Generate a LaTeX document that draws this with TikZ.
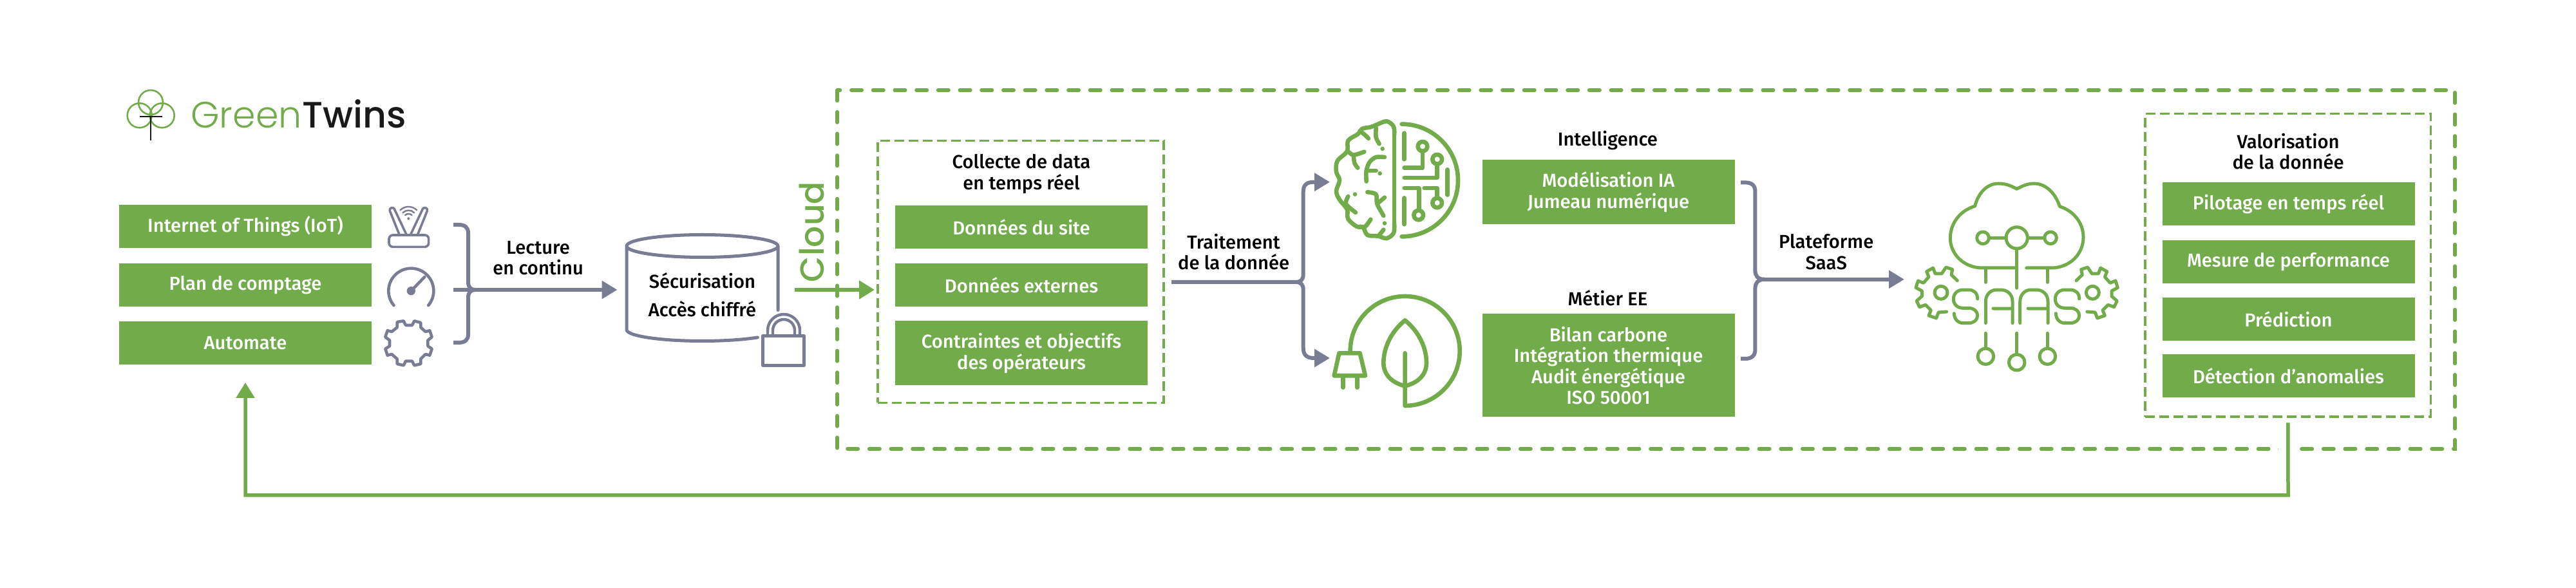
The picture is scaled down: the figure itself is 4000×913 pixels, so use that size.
\documentclass[tikz,border=0pt]{standalone}
\usepackage{fontspec}
\usepackage{tikz}
\usetikzlibrary{positioning, calc, arrows.meta}
\setmainfont{Fira Sans Medium}
\newfontfamily\logolight{Poppins Light}
\newfontfamily\logomed{Poppins Medium}
\definecolor{gtgreen}{HTML}{72AC4A}
\definecolor{gtgrey}{HTML}{797C95}
\tikzset{gbox/.style={fill=gtgreen, text=white, inner sep=0pt, outer sep=0pt, align=center,
    minimum width=196pt, minimum height=33.5pt, font=\fontsize{14.6}{16.25}\selectfont}}
\tikzset{lbl/.style={text=black, inner sep=0pt, align=center, font=\fontsize{14.6}{16.25}\selectfont}}
\tikzset{frame/.style={draw=gtgreen, line width=1.75pt, dash pattern=on 7.5pt off 3.5pt, inner sep=0pt, outer sep=0pt}}
\tikzset{bus/.style={draw=gtgrey, line width=3pt}}
\tikzset{busarrow/.style={bus, -{Triangle[length=12pt, width=13.5pt]}}}
\tikzset{greenarrow/.style={draw=gtgreen, line width=2.75pt, -{Triangle[length=12pt, width=14pt]}}}
\tikzset{icon/.style={draw=gtgreen, line width=3.3pt, line cap=round, line join=round}}
\tikzset{greyicon/.style={draw=gtgrey, line width=2.3pt, line cap=round, line join=round}}
\tikzset{anchorbox/.style={inner sep=0pt, outer sep=0pt}}
\newcommand{\saasgear}{
  \draw[icon, line width=2.5pt] plot coordinates {(268,497) (240,470) (245,445) (215,435) (195,465) (165,465) (155,438) (125,455) (135,480) (110,508) (85,498) (75,530) (103,545) (103,570) (78,592) (92,620) (120,610) (145,635) (135,660) (170,672) (180,645) (218,642)};
  \draw[icon, line width=2.5pt] (192,553) circle[radius=30];
}
\begin{document}
\begin{tikzpicture}[x=.5pt, y=-.5pt]
  \useasboundingbox (0,0) rectangle (4000,913);

  % logo
  \draw[gtgreen, line width=1.3pt] (234,159) circle[radius=19] (216.7,179.3) circle[radius=19] (251.7,179.3) circle[radius=19];
  \draw[black!90, line width=1.4pt] (216.7,181) -- (252.3,181) (234,181) -- (234,218);
  \node[anchor=base west, inner sep=0pt, text=gtgreen, font=\fontsize{28.5}{30}\logolight] (logoa) at (296,199) {Green};
  \node[anchor=base west, inner sep=0pt, text=black!90, font=\fontsize{28.5}{30}\logomed] (logob) at (logoa.base east) {Twins};

  % left column
  \node[gbox] (iot) at (381,351.5) {Internet of Things (IoT)};
  \node[gbox, below=12.25pt of iot] (plan) {Plan de comptage};
  \node[gbox, below=11.25pt of plan] (auto) {Automate};

  % router
  \begin{scope}[shift={(570,300)}, x=.16667pt, y=-.16667pt]
    \draw[greyicon, line width=1.8pt, rounded corners=3pt] (102,195) rectangle (287,250);
    \draw[greyicon, line width=1.8pt] (150,192) -- (107,85) .. controls (100,65) and (125,60) .. (130,80) -- (183,192);
    \draw[greyicon, line width=1.8pt] (236,192) -- (279,85) .. controls (286,65) and (261,60) .. (256,80) -- (203,192);
    \fill[gtgrey] (193,118) circle[radius=6];
    \draw[greyicon, line width=1.2pt] (193,118) ++(-135:22) arc[start angle=-135, end angle=-45, radius=22];
    \draw[greyicon, line width=1.2pt] (193,118) ++(-135:38) arc[start angle=-135, end angle=-45, radius=38];
    \draw[greyicon, line width=1.2pt] (193,118) ++(-135:55) arc[start angle=-135, end angle=-45, radius=55];
    % gauge
    \draw[greyicon] (205,455) ++(140:105) arc[start angle=140, end angle=400, radius=105];
    \fill[gtgrey] (205,455) circle[radius=20];
    \draw[greyicon] (205,455) -- (268,390);
    % gear
    \draw[greyicon] plot coordinates {(140,600) (170,595) (180,615) (210,615) (220,595) (250,603) (250,625) (272,645) (292,640) (302,670) (283,685) (283,712) (302,725) (292,755) (272,750) (250,772) (250,795) (220,802) (210,782) (180,782) (170,802) (140,795) (140,772) (115,750) (95,755) (85,725) (105,712) (105,685) (85,670) (95,640) (115,645) (140,625)} -- cycle;
  \end{scope}

  % first collector
  \coordinate (lecta) at (704,349);
  \coordinate (lectb) at (704,450);
  \coordinate (lectc) at (704,532);
  \draw[bus] (lecta) -- (712,349) .. controls (722,349) and (727,353) .. (727,362) -- (727,438) .. controls (727,446) and (731,450) .. (738,450);
  \draw[bus] (lectc) -- (712,532) .. controls (722,532) and (727,528) .. (727,519) -- (727,462) .. controls (727,454) and (731,450) .. (738,450);
  \node[lbl] (lecture) at (835.6,400.5) {Lecture\\en continu};

  % database
  \node[lbl, font=\fontsize{14.6}{22}\selectfont, minimum width=117.5pt] (secure) at (1090.5,458) {Sécurisation\\Accès chiffré};
  \draw[busarrow, shorten >=7pt] (lectb) -- (lectb -| secure.west);
  \draw[greyicon, line width=2.5pt] (1208,481.5) -- (1208,382) arc[start angle=0, end angle=360, x radius=117.5, y radius=17.5] (973,382) -- (973,512) arc[start angle=180, end angle=43, x radius=117.5, y radius=17.5];
  \draw[greyicon, line width=2.4pt, line join=round] (1184.5,521.5) rectangle (1248.5,567.5);
  \draw[greyicon, line width=2.2pt] (1192,519) -- (1192,513) arc[start angle=180, end angle=360, radius=25] -- (1242,519);
  \draw[greyicon, line width=2.2pt] (1200,519) -- (1200,513) arc[start angle=180, end angle=360, radius=17] -- (1234,519);

  % cloud frame
  \draw[gtgreen, line width=2.75pt, line cap=round, dash pattern=on 8.25pt off 8.6pt] (1300,140) rectangle (3812,697);
  \node[rotate=90, inner sep=0pt, text=gtgreen, font=\fontsize{26}{28}\logomed] (cloudlbl) at (1260,360) {Cloud};

  % collect
  \node[frame, minimum width=222pt, minimum height=203.5pt] (collecte) at (1585,422) {};
  \node[lbl] (collectet) at (1586,270) {Collecte de data\\en temps réel};
  \node[gbox] (site) at (1586,353) {Données du site};
  \node[gbox, below=11.25pt of site] (externe) {Données externes};
  \node[gbox, below=11.25pt of externe, minimum height=50pt] (contr) {Contraintes et objectifs\\des opérateurs};
  \coordinate (secin) at (secure.east |- lectb);
  \draw[greenarrow, shorten <=13pt, shorten >=2.5pt] (secin) -- (secin -| collecte.west);

  % brain
  \node[anchorbox, minimum width=97pt] (brain) at (2170,282.7) {};
  \begin{scope}[shift={(2040,170)}, x=.16667pt, y=-.16667pt]
    \draw[icon] plot[smooth, tension=.6] coordinates {(375,120) (372,80) (340,55) (295,70) (265,82) (225,90) (205,115) (160,145) (155,195) (110,240) (105,290) (120,330) (105,380) (120,420) (155,465) (160,510) (200,545) (230,550) (250,585) (300,590) (340,600) (372,575) (375,530)};
    \draw[icon] (375,120) -- (375,530);
    \draw[icon] plot[smooth] coordinates {(290,85) (290,130) (305,160)};
    \draw[icon] plot[smooth] coordinates {(215,100) (240,120) (255,135)};
    \draw[icon] plot[smooth] coordinates {(160,195) (185,212) (235,197)};
    \draw[icon] plot[smooth] coordinates {(185,212) (190,250) (205,272)};
    \draw[icon] plot[smooth] coordinates {(330,222) (290,222) (260,245) (245,285) (245,335)};
    \draw[icon] (255,285) -- (290,285);
    \draw[icon] plot[smooth] coordinates {(250,385) (290,395) (295,440) (325,495)};
    \draw[icon] (300,435) -- (330,410);
    \draw[icon] plot[smooth] coordinates {(160,405) (150,440) (195,480)};
    \draw[icon] plot[smooth] coordinates {(265,512) (240,545) (215,545)};
    \draw[icon] plot[smooth] coordinates {(325,560) (305,585)};
    \fill[gtgreen] (320,183) circle[radius=10] (308,298) circle[radius=10] (192,395) circle[radius=10] (330,530) circle[radius=10];
    % circuit half
    \draw[icon] (410,68) arc[start angle=-90, end angle=90, radius=262];
    \draw[icon] (422,110) -- (422,232) (623,280) -- (623,398) (422,412) -- (422,535);
    \draw[icon] (507,172) circle[radius=22] (575,232) circle[radius=22] (488,492) circle[radius=22] (575,435) circle[radius=22];
    \draw[icon] (507,195) -- (507,272) -- (422,272);
    \draw[icon] (575,255) -- (575,318) -- (422,318);
    \draw[icon] (422,366) -- (490,366) -- (490,470);
    \draw[icon] (515,366) -- (575,366) -- (575,412);
  \end{scope}

  % plug and leaf
  \node[anchorbox, minimum width=102pt] (leaf) at (2170,556) {};
  \begin{scope}[shift={(2040,440)}, x=.16667pt, y=-.16667pt]
    \draw[icon] (170,315) arc[start angle=180, end angle=450, radius=255] -- (425,325);
    \draw[icon] (425,172) .. controls (360,225) and (325,300) .. (325,370) .. controls (325,430) and (370,465) .. (425,478) .. controls (480,465) and (525,430) .. (525,370) .. controls (525,300) and (490,225) .. (425,172) -- cycle;
    \draw[icon] (118,325) -- (215,325) -- (240,430) -- (95,430) -- cycle;
    \draw[icon] (137,440) -- (137,485) (202,440) -- (202,485);
  \end{scope}

  % second collector
  \draw[bus, shorten <=6pt] (collecte.east |- 0,438) -- (2012,438) .. controls (2020,438) and (2023.7,434) .. (2023.7,426) -- (2023.7,298) .. controls (2023.7,288) and (2028,282.7) .. (2040,282.7);
  \draw[bus] (2012,438) .. controls (2020,438) and (2023.7,442) .. (2023.7,450) -- (2023.7,540) .. controls (2023.7,550) and (2028,556) .. (2040,556);
  \coordinate (brainin) at (2040,282.7);
  \coordinate (leafin) at (2040,556);
  \draw[busarrow, shorten >=4pt] (brainin) -- (brain.west);
  \draw[busarrow, shorten >=1.5pt] (leafin) -- (leaf.west);
  \node[lbl] (traitement) at (1915.6,391.3) {Traitement\\de la donnée};

  % model boxes
  \node[gbox, minimum height=50pt] (model) at (2497.5,298) {Modélisation IA\\Jumeau numérique};
  \node[gbox, minimum height=80pt] (metier) at (2497.5,567.4) {Bilan carbone\\Intégration thermique\\Audit énergétique\\ISO 50001};
  \node[lbl] (intel) at (2496.4,218.4) {Intelligence};
  \node[lbl] (metiert) at (2496.4,462.5) {Métier EE};

  % third collector
  \coordinate (plata) at (2703,283.4);
  \coordinate (platb) at (2740,433.8);
  \coordinate (platc) at (2703,557);
  \draw[bus] (plata) -- (2710,283.4) .. controls (2720,283.4) and (2725.4,288) .. (2725.4,297) -- (2725.4,420) .. controls (2725.4,428) and (2729,433.8) .. (platb);
  \draw[bus] (platc) -- (2710,557) .. controls (2720,557) and (2725.4,552) .. (2725.4,543) -- (2725.4,448) .. controls (2725.4,440) and (2729,433.8) .. (platb);
  \node[lbl] (plateforme) at (2835.7,391) {Plateforme\\SaaS};

  % saas icon
  \node[anchorbox, minimum width=158pt] (saas) at (3133,433.8) {};
  \draw[busarrow, shorten >=9pt] (platb) -- (saas.west);
  \begin{scope}[shift={(2950,270)}, x=.16667pt, y=-.16667pt]
    \tikzset{every path/.append style={line width=2.5pt}}
    \draw[icon, line width=2.5pt] (590,438) -- (705,438) .. controls (790,438) and (855,375) .. (855,295) .. controls (855,225) and (805,170) .. (745,152) .. controls (725,90) and (680,45) .. (625,45) .. controls (590,45) and (565,60) .. (545,70) .. controls (525,60) and (500,45) .. (460,45) .. controls (405,45) and (365,90) .. (350,150) .. controls (285,170) and (235,225) .. (235,300) .. controls (235,375) and (300,438) .. (385,438) -- (540,438);
    \draw[icon, line width=2.5pt] (545,298) circle[radius=50] (387,298) circle[radius=28] (702,298) circle[radius=28];
    \draw[icon, line width=2.5pt] (415,298) -- (495,298) (595,298) -- (675,298) (545,348) -- (545,532) (400,438) -- (400,505) (688,438) -- (688,505);
    \foreach \sx in {0,474} {
      \draw[icon, line width=2.5pt, shift={(\sx,0)}] (362,582) .. controls (362,555) and (345,540) .. (320,540) -- (295,540) .. controls (268,540) and (250,558) .. (250,583) .. controls (250,608) and (268,625) .. (295,625) -- (320,625) .. controls (345,625) and (362,640) .. (362,660) .. controls (362,680) and (345,695) .. (320,695) -- (295,695) .. controls (270,695) and (253,675) .. (253,650);
    }
    \draw[icon, line width=2.5pt] (400,695) -- (400,595) .. controls (400,560) and (425,540) .. (450,540) -- (470,540) .. controls (500,540) and (525,560) .. (525,595) -- (525,695) (435,627) -- (525,627);
    \draw[icon, line width=2.5pt] (560,695) -- (560,595) .. controls (560,560) and (585,540) .. (610,540) -- (635,540) .. controls (665,540) and (690,560) .. (690,595) -- (690,695) (597,627) -- (690,627);
    \draw[icon, line width=2.5pt] (400,742) -- (400,812) (545,742) -- (545,840) (688,742) -- (688,812);
    \draw[icon, line width=2.5pt] (400,850) circle[radius=37] (545,878) circle[radius=37] (688,850) circle[radius=37];
    \saasgear
    \begin{scope}[shift={(1090,0)}, xscale=-1]
      \saasgear
    \end{scope}
  \end{scope}

  % valorisation
  \node[frame, minimum width=221.75pt, minimum height=235.3pt] (valor) at (3552.75,411.7) {};
  \node[lbl] (valort) at (3553,235) {Valorisation\\de la donnée};
  \node[gbox] (pilot) at (3553.5,316.7) {Pilotage en temps réel};
  \node[gbox, below=11.4pt of pilot] (mesure) {Mesure de performance};
  \node[gbox, below=11.25pt of mesure] (predict) {Prédiction};
  \node[gbox, below=10.4pt of predict] (detect) {Détection d'anomalies};

  % return line
  \coordinate (retour) at (3553,769);
  \fill[white] (3538,688) rectangle (3568,706);
  \draw[greenarrow, shorten <=4.7pt, shorten >=14pt] (valor.south) -- (retour) -- (retour -| auto.south) -- (auto.south);
\end{tikzpicture}
\end{document}
